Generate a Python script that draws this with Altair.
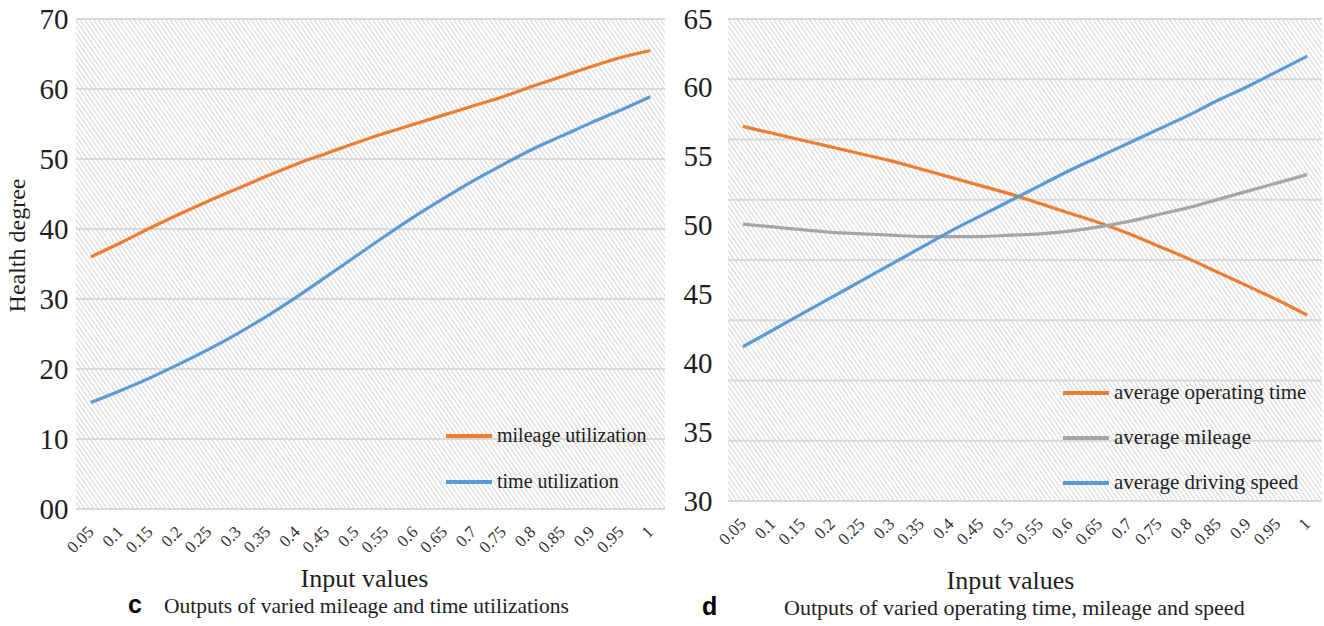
import altair as alt
import numpy as np
import pandas as pd

# ---- data -------------------------------------------------------------
inputs = ["0.05", "0.1", "0.15", "0.2", "0.25", "0.3", "0.35", "0.4", "0.45", "0.5",
          "0.55", "0.6", "0.65", "0.7", "0.75", "0.8", "0.85", "0.9", "0.95", "1"]

# panel c
mileage_utilization = [36.0, 38.0, 40.1, 42.1, 44.0, 45.8, 47.6, 49.3, 50.8, 52.3,
                       53.7, 55.0, 56.3, 57.6, 58.9, 60.4, 61.8, 63.2, 64.5, 65.5]
time_utilization = [15.2, 16.9, 18.7, 20.7, 22.8, 25.1, 27.6, 30.3, 33.2, 36.1,
                    39.0, 41.8, 44.4, 46.9, 49.2, 51.4, 53.3, 55.2, 57.0, 58.9]

# panel d
avg_operating_time = [57.2, 56.7, 56.2, 55.7, 55.2, 54.7, 54.1, 53.5, 52.9, 52.3,
                      51.6, 50.9, 50.2, 49.4, 48.5, 47.6, 46.6, 45.6, 44.6, 43.5]
avg_mileage = [50.1, 49.9, 49.7, 49.5, 49.4, 49.3, 49.2, 49.2, 49.2, 49.3,
               49.4, 49.6, 49.9, 50.3, 50.8, 51.3, 51.9, 52.5, 53.1, 53.7]
avg_driving_speed = [41.2, 42.4, 43.6, 44.8, 46.0, 47.2, 48.4, 49.6, 50.7, 51.8,
                     52.9, 54.0, 55.0, 56.0, 57.0, 58.0, 59.1, 60.1, 61.2, 62.3]

c_names = ["mileage utilization", "time utilization"]
c_colors = ["#ED7D31", "#5B9BD5"]
d_names = ["average operating time", "average mileage", "average driving speed"]
d_colors = ["#ED7D31", "#A5A5A5", "#5B9BD5"]

c_ticks = [0, 10, 20, 30, 40, 50, 60, 70]
d_ticks = [30, 35, 40, 45, 50, 55, 60, 65]
d_grid = [30 + 35 * k / 8 for k in range(9)]

SERIF = "Liberation Serif"
SANS = "Liberation Sans"
TXT = "#1e1e1e"


def long_table(names, series):
    rows = []
    for name, vals in zip(names, series):
        for x, v in zip(inputs, vals):
            rows.append({"input": x, "series": name, "value": v})
    return pd.DataFrame(rows)


def hatch(W, H, spacing=4.5, run=0.7):
    # diagonal texture filling the plot area, in pixel units of the panel
    dx = H * run
    starts = np.arange(-dx, W + spacing, spacing)
    df = pd.DataFrame({"hx0": starts, "hx1": starts + dx,
                       "hy0": float(H), "hy1": 0.0})
    return alt.Chart(df).mark_rule(stroke="#dedede", strokeWidth=1.3, clip=True).encode(
        x=alt.X("hx0:Q", scale=alt.Scale(domain=[0, W], nice=False, zero=False), axis=None),
        x2="hx1:Q",
        y=alt.Y("hy0:Q", scale=alt.Scale(domain=[0, H], nice=False, zero=False), axis=None),
        y2="hy1:Q",
    )


def gridlines(values, ydom):
    return alt.Chart(pd.DataFrame({"g": values})).mark_rule(
        stroke="#d9d9d9", strokeWidth=2
    ).encode(y=alt.Y("g:Q", scale=alt.Scale(domain=ydom, nice=False, zero=False), axis=None))


def caption(letter, text, lx, tx, y, size):
    a = alt.Chart(pd.DataFrame({"t": [letter]})).mark_text(
        font=SANS, fontSize=25, fontWeight="bold", color="#000", align="left",
        baseline="alphabetic").encode(text="t:N", x=alt.value(lx), y=alt.value(y))
    b = alt.Chart(pd.DataFrame({"t": [text]})).mark_text(
        font=SERIF, fontSize=size, color=TXT, align="left",
        baseline="alphabetic").encode(text="t:N", x=alt.value(tx), y=alt.value(y))
    return a + b


def panel(df, names, colors, ydom, ticks, grid_vals, W, H, yaxis, xtitle_x, xtitle_y,
          legend_x, legend_y, legend_font, legend_gap, cap):
    lines = alt.Chart(df).mark_line(strokeWidth=3.2, interpolate="monotone").encode(
        x=alt.X("input:O", sort=inputs, title="Input values",
                axis=alt.Axis(labelAngle=-45, labelAlign="right", labelBaseline="middle",
                              labelFont=SERIF, labelFontSize=17, labelColor="#333",
                              labelPadding=20, ticks=False, domain=False, grid=False,
                              titleFont=SERIF, titleFontSize=26, titleFontWeight="normal",
                              titleColor=TXT, titleX=xtitle_x, titleY=xtitle_y,
                              titleAlign="center", titleBaseline="alphabetic")),
        y=alt.Y("value:Q", scale=alt.Scale(domain=ydom, nice=False, zero=False), axis=yaxis),
        color=alt.Color("series:N", sort=names,
                        scale=alt.Scale(domain=names, range=colors),
                        legend=alt.Legend(title=None, orient="none", direction="vertical",
                                          legendX=legend_x, legendY=legend_y,
                                          symbolType="stroke", symbolSize=46 * 46,
                                          symbolStrokeWidth=4, labelFont=SERIF,
                                          labelFontSize=legend_font, labelColor=TXT,
                                          labelLimit=0, labelOffset=3,
                                          rowPadding=legend_gap, padding=0)),
    )
    return alt.layer(hatch(W, H), gridlines(grid_vals, ydom), lines, cap).resolve_scale(
        x="independent", y="independent"
    ).properties(width=W, height=H)


c_df = long_table(c_names, [mileage_utilization, time_utilization])
d_df = long_table(d_names, [avg_operating_time, avg_mileage, avg_driving_speed])

c_yaxis = alt.Axis(values=c_ticks, labelExpr="datum.value == 0 ? '00' : datum.label",
                   labelFont=SERIF, labelFontSize=29, labelColor=TXT, labelPadding=8,
                   ticks=False, domain=False, grid=False, title="Health degree",
                   titleFont=SERIF, titleFontSize=24, titleFontWeight="normal",
                   titleColor=TXT, titleAngle=270, titleX=-52, titleY=226,
                   titleAlign="center", titleBaseline="alphabetic")
d_yaxis = alt.Axis(values=d_ticks, labelFont=SERIF, labelFontSize=29, labelColor=TXT,
                   labelPadding=16, ticks=False, domain=False, grid=False, title=None)

left = panel(c_df, c_names, c_colors, [0, 70], c_ticks, c_ticks, 589, 490, c_yaxis,
             288, 77, 368, 392, 20, 11,
             caption("c", "Outputs of varied mileage and time utilizations", 52, 88, 594, 21.5))
right = panel(d_df, d_names, d_colors, [30, 65], d_ticks, d_grid, 594, 482, d_yaxis,
              282, 87, 333, 349, 21, 10,
              caption("d", "Outputs of varied operating time, mileage and speed", -26, 56, 596, 22))

chart = alt.hconcat(left, right, spacing=17).resolve_scale(color="independent").properties(
    padding={"left": 5, "top": 5, "right": 1, "bottom": 0},
    background="white",
).configure_view(stroke=None)

chart.save("out.html", embed_options={"renderer": "svg", "actions": False})
